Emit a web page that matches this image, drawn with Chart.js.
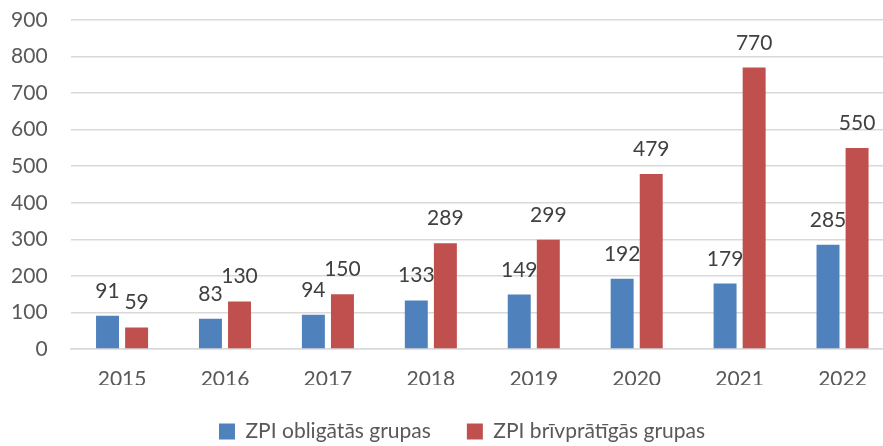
<!DOCTYPE html>
<html>
<head>
<meta charset="utf-8">
<script src="https://cdn.jsdelivr.net/npm/chart.js@4/dist/chart.umd.min.js"></script>
<style>
  html, body { margin: 0; padding: 0; overflow: hidden; background: #fff; }
  #wrap { width: 894px; height: 452px; position: relative; }
</style>
</head>
<body>
<div id="wrap"><canvas id="zpiChart"></canvas></div>
<script>
var years = ["2015", "2016", "2017", "2018", "2019", "2020", "2021", "2022"];
var obligatas = [91, 83, 94, 133, 149, 192, 179, 285];
var brivpratigas = [59, 130, 150, 289, 299, 479, 770, 550];
var seriesNames = ["ZPI obligātās grupas", "ZPI brīvprātīgās grupas"];
var yTicks = [0, 100, 200, 300, 400, 500, 600, 700, 800, 900];

var fontName = "Lato, 'Open Sans', sans-serif";

// value labels above each bar
var barLabels = {
  id: 'barLabels',
  afterDatasetsDraw: function(chart) {
    var ctx = chart.ctx;
    ctx.save();
    ctx.font = "21px " + fontName;
    ctx.fillStyle = "#404040";
    ctx.textAlign = "center";
    ctx.textBaseline = "alphabetic";
    chart.data.datasets.forEach(function(ds, i) {
      chart.getDatasetMeta(i).data.forEach(function(bar, j) {
        ctx.fillText(ds.data[j], bar.x, bar.y - 18);
      });
    });
    ctx.restore();
  }
};

// nudge the legend a bit to the right, as in the original
var legendShift = {
  id: 'legendShift',
  afterLayout: function(chart) {
    chart.legend.left += 15;
    chart.legend.right += 15;
  }
};

var chartData = {
  labels: years,
  datasets: [{
    label: seriesNames[0],
    data: obligatas,
    backgroundColor: "#4f81bd",
    categoryPercentage: 0.565,
    barPercentage: 0.79
  }, {
    label: seriesNames[1],
    data: brivpratigas,
    backgroundColor: "#c0504d",
    categoryPercentage: 0.565,
    barPercentage: 0.79
  }]
};

var ctx = document.getElementById("zpiChart").getContext("2d");
new Chart(ctx, {
  type: 'bar',
  data: chartData,
  plugins: [barLabels, legendShift],
  options: {
    responsive: true,
    maintainAspectRatio: false,
    animation: false,
    layout: { padding: { left: 0, right: 0, top: 20, bottom: 0 } },
    plugins: {
      tooltip: { enabled: false },
      legend: {
        position: 'bottom',
        labels: {
          color: "#595959",
          font: { family: fontName, size: 21 },
          boxWidth: 16,
          boxHeight: 16,
          padding: 36
        }
      }
    },
    scales: {
      x: {
        grid: { display: false },
        border: { color: "#d9d9d9", width: 1.5 },
        ticks: { color: "#595959", font: { family: fontName, size: 21 }, padding: 10 },
        afterFit: function(s) { s.height = 36; }
      },
      y: {
        min: 0,
        max: 900,
        afterBuildTicks: function(s) { s.ticks = yTicks.map(function(v) { return { value: v }; }); },
        grid: { color: "#d9d9d9", lineWidth: 1.5, drawTicks: false },
        border: { display: false },
        ticks: { color: "#595959", font: { family: fontName, size: 21 }, padding: 23 },
        afterFit: function(s) {
          s.width = 70.6;
          s.paddingTop = 0;
          s.paddingBottom = 0;
        }
      }
    }
  }
});
</script>
</body>
</html>
